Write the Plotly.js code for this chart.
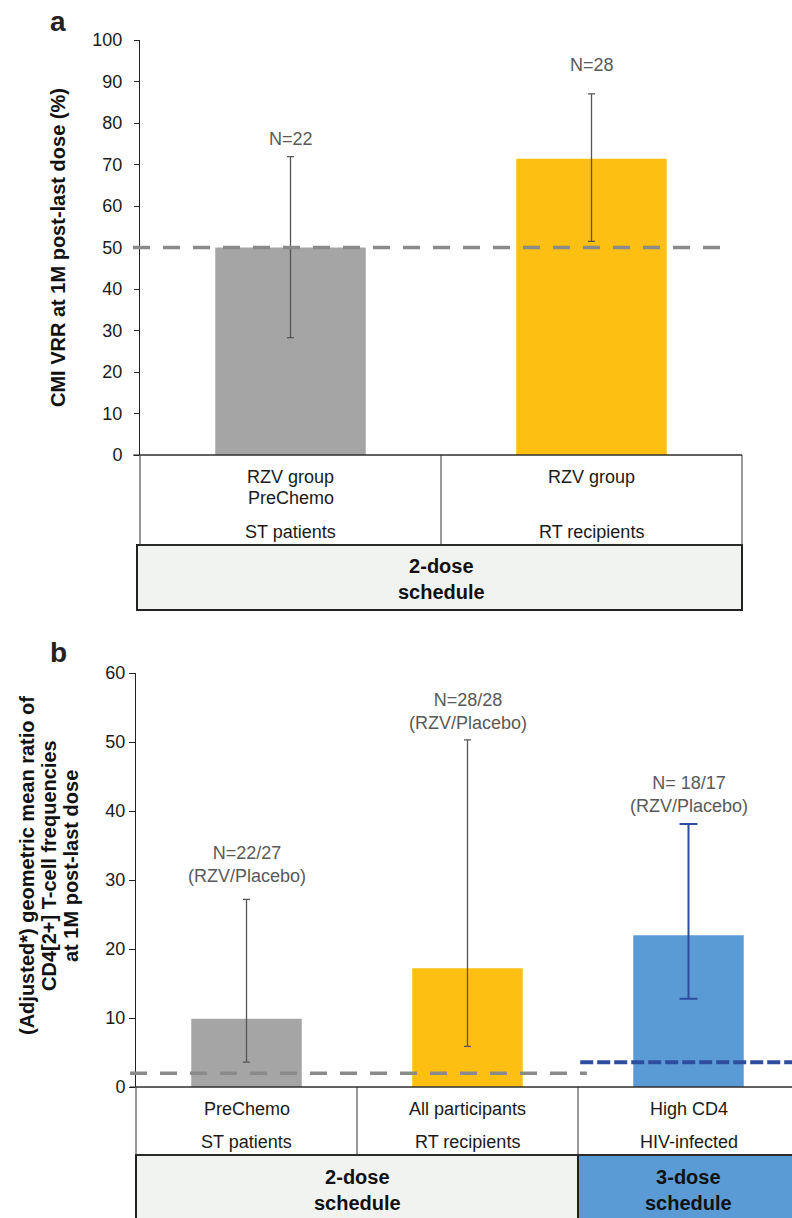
<!DOCTYPE html>
<html>
<head>
<meta charset="utf-8">
<script src="https://cdn.plot.ly/plotly-3.0.1.min.js"></script>
<style>
  html, body { margin: 0; padding: 0; background: #ffffff; }
  #chart { width: 792px; height: 1218px; }
</style>
</head>
<body>
<div id="chart"></div>
<script>
// ---------------- DATA ----------------
// Panel a: CMI VRR at 1M post-last dose (%)
const panelA_groups      = ["RZV group<br>PreChemo", "RZV group"];
const panelA_populations = ["ST patients", "RT recipients"];
const panelA_values      = [50.0, 71.4];
const panelA_upper       = [71.9, 87.0];
const panelA_lower       = [28.3, 51.5];
const panelA_N           = ["N=22", "N=28"];
const panelA_schedule    = "2-dose<br>schedule";
const panelA_threshold   = 50;

// Panel b: (Adjusted*) geometric mean ratio of CD4[2+] T-cell frequencies
const panelB_groups      = ["PreChemo", "All participants", "High CD4"];
const panelB_populations = ["ST patients", "RT recipients", "HIV-infected"];
const panelB_values      = [9.9, 17.2, 22.0];
const panelB_upper       = [27.2, 50.3, 38.1];
const panelB_lower       = [3.6, 5.9, 12.8];
const panelB_N           = ["N=22/27<br>(RZV/Placebo)", "N=28/28<br>(RZV/Placebo)", "N= 18/17<br>(RZV/Placebo)"];
const panelB_scheduleOf  = [0, 0, 1];
const panelB_schedules   = ["2-dose<br>schedule", "3-dose<br>schedule"];
const panelB_thresholds  = [2.0, 3.6];

// ---------------- STYLE / LAYOUT ----------------
const W = 792, H = 1218;
const FONT = "Liberation Sans, Arial, Helvetica, sans-serif";
const px = x => x / W;
const py = y => 1 - y / H;

const COL_GRAY = "#a5a5a5", COL_YELLOW = "#fcbf12", COL_BLUE = "#5b9bd5";
const COL_DARKBLUE = "#2f4d9e";
const barColorsA = [COL_GRAY, COL_YELLOW];
const barColorsB = [COL_GRAY, COL_YELLOW, COL_BLUE];

const rangeA = [-0.5, 1.5];
const rangeB = [-0.5, -0.5 + 656 / 221];
const domA = rangeA, domB = rangeB;
const toDom = (v, r) => (v - r[0]) / (r[1] - r[0]);

function errTrace(xs, vals, up, lo, colors, xa, ya, ecol, thick, w) {
  return {
    type: "bar", x: xs, y: vals, xaxis: xa, yaxis: ya, width: 0.5,
    marker: { color: colors, line: { width: 0 } },
    error_y: {
      type: "data", symmetric: false,
      array: up.map((u, i) => u - vals[i]),
      arrayminus: lo.map((l, i) => vals[i] - l),
      color: ecol, thickness: thick, width: w
    },
    hoverinfo: "skip", showlegend: false
  };
}

const idxA = panelA_values.map((_, i) => i);
const idxB = panelB_values.map((_, i) => i);
const idxB2 = idxB.filter(i => panelB_scheduleOf[i] === 0);
const idxB3 = idxB.filter(i => panelB_scheduleOf[i] === 1);
const pick = (arr, ids) => ids.map(i => arr[i]);

const traces = [
  errTrace(idxA, panelA_values, panelA_upper, panelA_lower, barColorsA, "x", "y", "#555555", 1.3, 3.5),
  errTrace(idxB2, pick(panelB_values, idxB2), pick(panelB_upper, idxB2), pick(panelB_lower, idxB2),
           pick(barColorsB, idxB2), "x2", "y2", "#555555", 1.3, 3.5),
  errTrace(idxB3, pick(panelB_values, idxB3), pick(panelB_upper, idxB3), pick(panelB_lower, idxB3),
           pick(barColorsB, idxB3), "x2", "y2", COL_DARKBLUE, 2, 9)
];

const shapes = [];
const annotations = [];

// ---- Panel a decorations ----
// x axis line (extends a bit left of y axis)
shapes.push({ type: "line", xref: "x domain", yref: "y domain", x0: -7/602, x1: 1, y0: 0, y1: 0,
              line: { color: "#222", width: 1 } });
// threshold dashed line
shapes.push({ type: "line", xref: "x domain", yref: "y", x0: -7/602, x1: toDom(1.47, rangeA),
              y0: panelA_threshold, y1: panelA_threshold, line: { color: "#8a8a8a", width: 3.5, dash: "17px,13px" } });
// table row
shapes.push({ type: "rect", xref: "x domain", yref: "paper", x0: 0, x1: 1, y0: py(545), y1: py(455),
              line: { color: "#333", width: 1 } });
idxA.slice(0, -1).forEach(i => shapes.push({ type: "line", xref: "x domain", yref: "paper",
  x0: toDom(i + 0.5, rangeA), x1: toDom(i + 0.5, rangeA), y0: py(545), y1: py(455), line: { color: "#333", width: 1 } }));
// schedule box
shapes.push({ type: "rect", xref: "x domain", yref: "paper", x0: -3/602, x1: 1, y0: py(610), y1: py(545),
              fillcolor: "#f1f3f1", line: { color: "#222", width: 2 }, layer: "below" });

idxA.forEach(i => {
  panelA_groups[i].split("<br>").forEach((t, j) => annotations.push({
    xref: "x", yref: "paper", x: i, y: py(477 + 21 * j), text: t, showarrow: false,
    xanchor: "center", yanchor: "middle", font: { family: FONT, size: 18, color: "#1a1a1a" } }));
  annotations.push({ xref: "x", yref: "paper", x: i, y: py(532), text: panelA_populations[i], showarrow: false,
    xanchor: "center", yanchor: "middle", font: { family: FONT, size: 18, color: "#1a1a1a" } });
});
annotations.push({ xref: "x", yref: "paper", x: (idxA[0] + idxA[idxA.length - 1]) / 2, y: py(579),
  text: "<b>" + panelA_schedule + "</b>", showarrow: false, xanchor: "center", yanchor: "middle",
  font: { family: FONT, size: 20, color: "#111" } });
const shiftA = [18, 29];
idxA.forEach(i => annotations.push({ xref: "x", yref: "y", x: i, y: panelA_upper[i], yshift: shiftA[i],
  text: panelA_N[i], showarrow: false, xanchor: "center", yanchor: "middle",
  font: { family: FONT, size: 18, color: "#595959" } }));

// ---- Panel b decorations ----
shapes.push({ type: "line", xref: "x2 domain", yref: "y2 domain", x0: -6/656, x1: 1, y0: 0, y1: 0,
              line: { color: "#222", width: 1 } });
// thresholds per schedule
const schedExtent = s => {
  const ids = idxB.filter(i => panelB_scheduleOf[i] === s);
  return [ids[0] - 0.5, ids[ids.length - 1] + 0.5];
};
shapes.push({ type: "line", xref: "x2 domain", yref: "y2", x0: -6/656, x1: toDom(1.54, rangeB),
  y0: panelB_thresholds[0], y1: panelB_thresholds[0], line: { color: "#8a8a8a", width: 3.5, dash: "17px,13px" } });
shapes.push({ type: "line", xref: "x2 domain", yref: "y2", x0: toDom(1.51, rangeB), x1: 1.02,
  y0: panelB_thresholds[1], y1: panelB_thresholds[1], line: { color: COL_DARKBLUE, width: 4, dash: "13px,4px" } });
// table row
shapes.push({ type: "rect", xref: "x2 domain", yref: "paper", x0: 0, x1: 1.02, y0: py(1155), y1: py(1087),
              line: { color: "#333", width: 1 } });
idxB.slice(0, -1).forEach(i => shapes.push({ type: "line", xref: "x2 domain", yref: "paper",
  x0: toDom(i + 0.5, rangeB), x1: toDom(i + 0.5, rangeB), y0: py(1155), y1: py(1087), line: { color: "#333", width: 1 } }));
// schedule boxes
panelB_schedules.forEach((txt, s) => {
  const ext = schedExtent(s);
  shapes.push({ type: "rect", xref: "x2 domain", yref: "paper",
    x0: s === 0 ? 0 : toDom(ext[0], rangeB), x1: s === panelB_schedules.length - 1 ? 1.02 : toDom(ext[1], rangeB),
    y0: py(1240), y1: py(1155), fillcolor: s === 0 ? "#f1f3f1" : COL_BLUE,
    line: { color: "#222", width: 2 }, layer: "below" });
  annotations.push({ xref: "x2", yref: "paper", x: (ext[0] + ext[1]) / 2, y: py(1190),
    text: "<b>" + txt + "</b>", showarrow: false, xanchor: "center", yanchor: "middle",
    font: { family: FONT, size: 20, color: "#111" } });
});
idxB.forEach(i => {
  annotations.push({ xref: "x2", yref: "paper", x: i, y: py(1109), text: panelB_groups[i], showarrow: false,
    xanchor: "center", yanchor: "middle", font: { family: FONT, size: 18, color: "#1a1a1a" } });
  annotations.push({ xref: "x2", yref: "paper", x: i, y: py(1142), text: panelB_populations[i], showarrow: false,
    xanchor: "center", yanchor: "middle", font: { family: FONT, size: 18, color: "#1a1a1a" } });
});
const shiftB = [35, 28, 30];
idxB.forEach(i => annotations.push({ xref: "x2", yref: "y2", x: i, y: panelB_upper[i], yshift: shiftB[i],
  text: panelB_N[i], showarrow: false, xanchor: "center", yanchor: "middle",
  font: { family: FONT, size: 18, color: "#595959" } }));

// panel letters & y titles
annotations.push({ xref: "paper", yref: "paper", x: px(58), y: py(22), text: "<b>a</b>", showarrow: false,
  xanchor: "center", yanchor: "middle", font: { family: FONT, size: 28, color: "#222" } });
annotations.push({ xref: "paper", yref: "paper", x: px(58), y: py(652), text: "<b>b</b>", showarrow: false,
  xanchor: "center", yanchor: "middle", font: { family: FONT, size: 28, color: "#222" } });
annotations.push({ xref: "paper", yref: "paper", x: px(58), y: py(248), textangle: -90,
  text: "<b>CMI VRR at 1M post-last dose (%)</b>", showarrow: false, xanchor: "center", yanchor: "middle",
  font: { family: FONT, size: 20, color: "#111" } });
["(Adjusted*) geometric mean ratio of", "CD4[2+] T-cell frequencies", "at 1M post-last dose"].forEach((t, j) =>
  annotations.push({ xref: "paper", yref: "paper", x: px(27 + 22 * j), y: py(866), textangle: -90,
    text: "<b>" + t + "</b>", showarrow: false, xanchor: "center", yanchor: "middle",
    font: { family: FONT, size: 20, color: "#111" } }));

const yAxisCommon = {
  showgrid: false, zeroline: false, showline: true, linecolor: "#222", linewidth: 1,
  ticks: "outside", ticklen: 5, tickcolor: "#222", tickwidth: 1,
  tickfont: { family: FONT, size: 18, color: "#1a1a1a" }, fixedrange: true
};
const xAxisCommon = { showgrid: false, zeroline: false, showline: false, showticklabels: false, ticks: "", fixedrange: true };

const layout = {
  width: W, height: H, margin: { l: 0, r: 0, t: 0, b: 0 },
  paper_bgcolor: "#ffffff", plot_bgcolor: "rgba(0,0,0,0)",
  showlegend: false, barmode: "overlay",
  xaxis:  Object.assign({}, xAxisCommon, { domain: [px(140), px(742)], range: rangeA, anchor: "y" }),
  yaxis:  Object.assign({}, yAxisCommon, { domain: [py(455), py(40)], range: [0, 100], dtick: 10, anchor: "x", ticklabelstandoff: 8 }),
  xaxis2: Object.assign({}, xAxisCommon, { domain: [px(136), 1], range: rangeB, anchor: "y2" }),
  yaxis2: Object.assign({}, yAxisCommon, { domain: [py(1087), py(673)], range: [0, 60], dtick: 10, anchor: "x2", ticklen: 6 }),
  shapes: shapes, annotations: annotations
};

Plotly.newPlot("chart", traces, layout, { staticPlot: true, displayModeBar: false });
</script>
</body>
</html>
